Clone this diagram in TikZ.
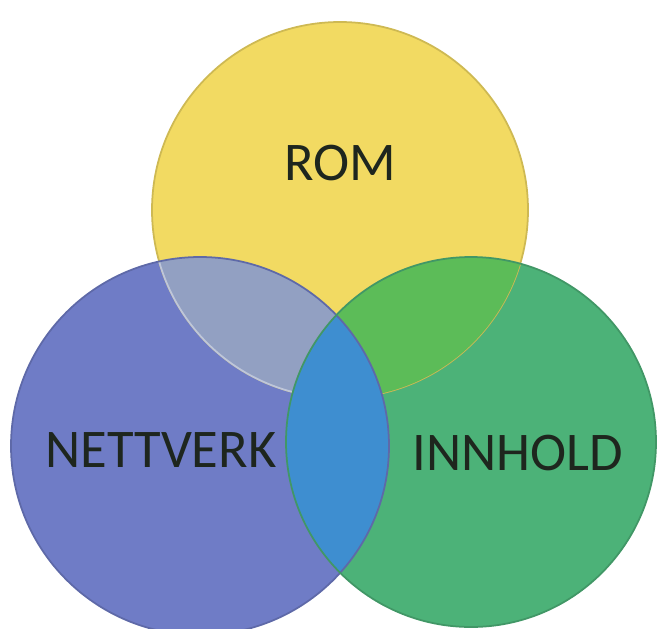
\documentclass[tikz,border=0pt]{standalone}
\usepackage{fontspec}
\setmainfont{Carlito}
\usetikzlibrary{positioning}
\definecolor{romcolor}{RGB}{242,218,98}
\definecolor{nettcolor}{RGB}{111,124,198}
\definecolor{innhcolor}{RGB}{76,178,120}
\definecolor{romnett}{RGB}{146,160,194}
\definecolor{rominnh}{RGB}{92,188,88}
\definecolor{nettinnh}{RGB}{62,142,208}
\definecolor{textcolor}{RGB}{30,38,30}

\begin{document}
\begin{tikzpicture}[
  x=0.1mm, y=0.1mm,
  lbl/.style={font=\fontsize{15.5}{18}\selectfont, text=textcolor, inner sep=0pt},
  rim/.style={line width=0.5pt},
]
\useasboundingbox (0,0) rectangle (658,628);
\clip (0,0) rectangle (658,628);
\coordinate (rom) at (340,418);
\coordinate (nett) at (200,182);
\coordinate (innh) at (471,186);
% Circles
\foreach \c/\col/\r in {rom/romcolor/188, nett/nettcolor/189, innh/innhcolor/185} {
  \fill[\col] (\c) circle (\r);
}
\draw[rim, romcolor!85!black] (rom) circle (188);
% Overlaps
\begin{scope}
  \clip (rom) circle (188);
  \fill[romnett] (nett) circle (189);
  \fill[rominnh] (innh) circle (185);
\end{scope}
\begin{scope}
  \clip (nett) circle (189);
  \draw[rim, romnett!60!white] (rom) circle (188);
  \fill[nettinnh] (innh) circle (185);
\end{scope}
% Rims
\draw[rim, nettcolor!85!black] (nett) circle (189);
\draw[rim, innhcolor!85!black] (innh) circle (185);
% Labels
\node[lbl] (romlbl) at (340,465) {ROM};
\node[lbl] (nettlbl) at (161,178) {NETTVERK};
\node[lbl] (innhlbl) at (518,175) {INNHOLD};
\end{tikzpicture}
\end{document}
